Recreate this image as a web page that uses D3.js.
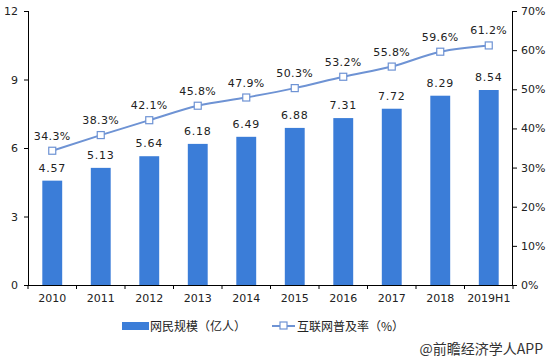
<!DOCTYPE html>
<html><head><meta charset="utf-8">
<script src="https://cdn.jsdelivr.net/npm/d3@7"></script>
<style>body{margin:0;background:#fff}svg{display:block}text{font-family:"Noto Sans CJK SC","DejaVu Sans",sans-serif}</style>
</head><body><svg id="c" width="546" height="360"></svg>
<script>
const categories = ["2010","2011","2012","2013","2014","2015","2016","2017","2018","2019H1"];
const users = [4.57,5.13,5.64,6.18,6.49,6.88,7.31,7.72,8.29,8.54];
const rate = [34.3,38.3,42.1,45.8,47.9,50.3,53.2,55.8,59.6,61.2];
const leftTicks = [0,3,6,9,12];
const rightTicks = [0,10,20,30,40,50,60,70];
const barName = "网民规模（亿人）";
const lineName = "互联网普及率（%）";

const svg = d3.select("#c");
const L = 28, R = 513, T = 11, B = 285;
const x = d3.scaleBand().domain(categories).range([L, R]).paddingInner(0.59).paddingOuter(0.295);
const yL = d3.scaleLinear().domain([0,12]).range([B, T]);
const yR = d3.scaleLinear().domain([0,70]).range([B, T]);
const barColor = "#3b7dd8", lineColor = "#6e93d4";

const fs = 11;
const gl = svg.append("g").attr("transform",`translate(${L},0)`)
  .call(d3.axisLeft(yL).tickValues(leftTicks).tickSize(4).tickPadding(6));
const gr = svg.append("g").attr("transform",`translate(${R},0)`)
  .call(d3.axisRight(yR).tickValues(rightTicks).tickSize(4).tickPadding(4).tickFormat(d=>d+"%"));
const xb = d3.scaleBand().domain(categories).range([L,R]);
const gx = svg.append("g").attr("transform",`translate(0,${B})`)
  .call(d3.axisBottom(xb).tickSize(0).tickPadding(9));
[gl,gr,gx].forEach(g=>{
  g.selectAll("path").attr("stroke","#000").attr("stroke-width",1);
  g.selectAll("line").attr("stroke","#000");
  g.selectAll("text").attr("font-size",fs).attr("fill","#222").style("font-family","'DejaVu Sans',sans-serif");
});
gl.select("path").attr("d",`M0.5,${T}V${B}`);
gr.select("path").attr("d",`M-0.5,${T}V${B}`);
gx.select("path").attr("d",`M${L},0.5H${R}`);
gx.selectAll("line.sep").data(d3.range(categories.length+1)).enter().append("line")
  .attr("x1",i=>L+i*xb.bandwidth()).attr("x2",i=>L+i*xb.bandwidth())
  .attr("y1",0).attr("y2",4).attr("stroke","#000");

svg.append("g").selectAll("rect").data(users).enter().append("rect")
  .attr("x",(d,i)=>x(categories[i])).attr("width",x.bandwidth())
  .attr("y",d=>yL(d)).attr("height",d=>B-yL(d)).attr("fill",barColor);
svg.append("g").selectAll("text").data(users).enter().append("text")
  .attr("x",(d,i)=>x(categories[i])+x.bandwidth()/2).attr("y",d=>yL(d)-9)
  .attr("text-anchor","middle").attr("font-size",fs).attr("fill","#222").attr("letter-spacing",0.8)
  .style("font-family","'DejaVu Sans',sans-serif").text(d=>d.toFixed(2));

const cx = (i)=>xb(categories[i])+xb.bandwidth()/2;
const line = d3.line().x((d,i)=>cx(i)).y(d=>yR(d)).curve(d3.curveMonotoneX);
svg.append("path").datum(rate).attr("d",line).attr("fill","none").attr("stroke",lineColor).attr("stroke-width",2);
svg.append("g").selectAll("rect").data(rate).enter().append("rect")
  .attr("x",(d,i)=>cx(i)-3.5).attr("y",d=>yR(d)-3.5).attr("width",7).attr("height",7)
  .attr("fill","#fff").attr("stroke",lineColor).attr("stroke-width",1.2);
svg.append("g").selectAll("text").data(rate).enter().append("text")
  .attr("x",(d,i)=>cx(i)).attr("y",d=>yR(d)-11)
  .attr("text-anchor","middle").attr("font-size",fs).attr("fill","#222").attr("letter-spacing",0.4)
  .style("font-family","'DejaVu Sans',sans-serif").text(d=>d.toFixed(1)+"%");

const lg = svg.append("g");
lg.append("rect").attr("x",122).attr("y",322).attr("width",27).attr("height",8).attr("fill",barColor);
lg.append("text").attr("x",150).attr("y",330.5).attr("font-size",12).attr("fill","#222").text(barName);
lg.append("line").attr("x1",272).attr("x2",295).attr("y1",326).attr("y2",326).attr("stroke",lineColor).attr("stroke-width",2);
lg.append("rect").attr("x",280).attr("y",322).attr("width",7).attr("height",7).attr("fill","#fff").attr("stroke",lineColor).attr("stroke-width",1.2);
lg.append("text").attr("x",297).attr("y",330.5).attr("font-size",12).attr("fill","#222").text(lineName);
svg.append("text").attr("x",543).attr("y",354).attr("text-anchor","end").attr("font-size",14).attr("fill","#333").text("@前瞻经济学人APP");
</script></body></html>
